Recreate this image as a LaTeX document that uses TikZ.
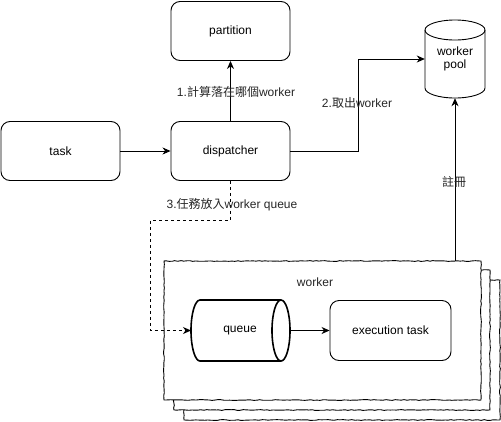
\documentclass[tikz,border=0pt]{standalone}
\usepackage{fontspec}
\setmainfont{Liberation Sans}
\newfontfamily\cjk{Noto Sans CJK TC}
\usetikzlibrary{arrows.meta,decorations.pathmorphing}
\begin{document}
\begin{tikzpicture}[x=1pt,y=-1pt,
  every node/.style={font=\fontsize{12}{14}\selectfont, inner sep=0pt},
  box/.style={draw, rounded corners=9pt, minimum width=119pt, minimum height=59pt, line width=0.9pt},
  arr/.style={line width=0.9pt, -{Stealth[length=8pt,width=7pt,inset=2.5pt]}},
  sketch/.style={draw, fill=white, line width=0.9pt, decorate, decoration={random steps, segment length=3pt, amplitude=0.4pt}},
  lbl/.style={text=black!85}
]
\useasboundingbox (0,0) rectangle (501,421);
\pgfmathsetseed{7}
% worker stack (back to front)
\path[sketch] (184,280) rectangle (500,420);
\path[sketch] (174,270) rectangle (490,410);
\path[sketch] (164,261) rectangle (481,400);
\node[minimum width=317pt, minimum height=139pt] (stack) at (322.5,330.5) {};
\node[lbl] (wlabel) at (315,282) {worker};

% boxes
\node[box] (partition) at (230.5,31) {partition};
\node[box] (task) at (60.5,151) {task};
\node[box] (disp) at (230.5,151) {dispatcher};
\node[box, minimum width=121pt, minimum height=60pt] (exec) at (390.5,330.5) {execution task};

% worker pool cylinder (vertical)
\draw[line width=0.9pt, fill=white] (425,30) -- (425,88) arc[start angle=180, end angle=360, x radius=30pt, y radius=10pt] -- (485,30) arc[start angle=0, end angle=180, x radius=30pt, y radius=10pt] -- cycle;
\draw[line width=0.9pt] (425,30) arc[start angle=180, end angle=360, x radius=30pt, y radius=10pt];
\node[minimum width=60pt, minimum height=78pt, align=center] (pool) at (455,59) {worker\\[-1pt]pool};

% queue cylinder (horizontal)
\draw[line width=1.6pt, fill=white] (281,300) -- (200,300) arc[start angle=90, end angle=270, x radius=9pt, y radius=30.5pt] -- (281,361) arc[start angle=270, end angle=450, x radius=9pt, y radius=30.5pt] -- cycle;
\draw[line width=1.6pt] (281,300) arc[start angle=90, end angle=-90, x radius=-9pt, y radius=30.5pt];
\node[minimum width=100pt, minimum height=61pt] (queue) at (240,330.5) {queue};
\coordinate (qin) at (191,330.5);

% connectors
\draw[arr] (task) -- (disp);
\draw[arr] (disp) -- (partition);
\draw[arr] (disp.east) -- (358,151) |- (pool.west);
\draw[arr] (stack.north -| pool) -- (pool.south);
\draw[arr, dash pattern=on 3pt off 3pt] (disp.south) -- (230.5,220) -- (150.5,220) |- (qin);
\draw[arr] (queue) -- (exec);

% labels
\node[lbl] (l1) at (236,92) {1.{\cjk 計算落在哪個}worker};
\node[lbl] (l2) at (357,103) {2.{\cjk 取出}worker};
\node[lbl] (l3) at (232,205) {3.{\cjk 任務放入}worker queue};
\node[lbl] (l4) at (454,182) {{\cjk 註冊}};
\end{tikzpicture}
\end{document}
